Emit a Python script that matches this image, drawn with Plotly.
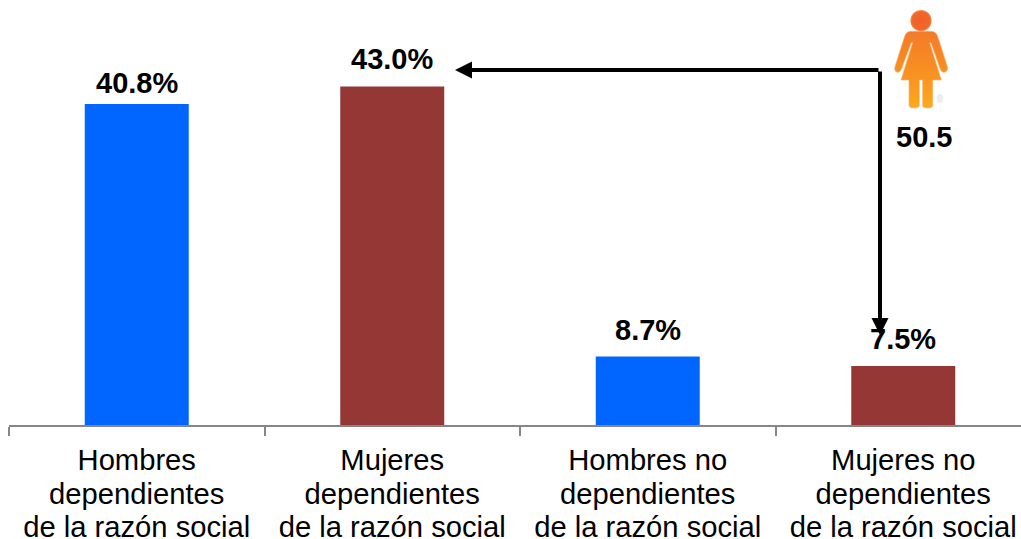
import base64
import plotly.graph_objects as go

categories = ["Hombres<br>dependientes<br>de la razón social", "Mujeres<br>dependientes<br>de la razón social",
              "Hombres no<br>dependientes<br>de la razón social", "Mujeres no<br>dependientes<br>de la razón social"]
values = [40.8, 43.0, 8.7, 7.5]
labels = ["40.8%", "43.0%", "8.7%", "7.5%"]
label_lift = [21, 27.5, 27, 27]
colors = ["#0066FF", "#953735", "#0066FF", "#953735"]
gap_label = "50.5"

FONT = "Liberation Sans, Arial, sans-serif"
W, H = 1021, 539
L, T, R, B = 9, 0, 0, 114
PW, PH = W - L - R, H - T - B
unit_px = 255.5
y_max = PH / 7.87
LABEL_SIZE = 29.2
LINE_BASE = 25.8


def tick_text(s):
    return "<br>".join(f'<span style="font-size:{LABEL_SIZE}px">{p}</span>' for p in s.split("<br>"))


svg = """<svg xmlns='http://www.w3.org/2000/svg' width='360' height='360' viewBox='0 0 360 360'>
<defs>
<linearGradient id='g' x1='0' y1='0' x2='0' y2='1'>
<stop offset='0' stop-color='#F47A2C'/><stop offset='0.5' stop-color='#F78F22'/><stop offset='1' stop-color='#FBAA1E'/>
</linearGradient>
<radialGradient id='h'><stop offset='0' stop-color='#F0602A'/><stop offset='0.85' stop-color='#F2672A'/><stop offset='1' stop-color='#F59A5A'/></radialGradient>
<filter id='b'><feGaussianBlur stdDeviation='1.6'/></filter>
</defs>
<ellipse cx='240' cy='295' rx='10' ry='14' fill='#E4E4E4' opacity='0.6' filter='url(#b)'/>
<circle cx='183' cy='62' r='32' fill='url(#h)' filter='url(#b)'/>
<path d='M150 94 L216 94 Q230 96 234 112 L263 203 Q264 213 253 217 Q245 218 241 208 L213 128 L209 128 L244 240 L218 240 L218 316 Q218 324 203 324 Q188 324 188 316 L188 240 L178 240 L178 316 Q178 324 162 324 Q147 324 147 316 L147 240 L123 240 L158 128 L154 128 L124 208 Q120 218 112 217 Q102 213 104 203 L133 112 Q137 96 150 94 Z' fill='url(#g)' stroke='#F9B36B' stroke-width='2' filter='url(#b)'/>
</svg>"""
icon = "data:image/svg+xml;base64," + base64.b64encode(svg.encode()).decode()

fig = go.Figure(go.Bar(
    x=categories, y=values, marker_color=colors, marker_line_width=0, width=0.407, cliponaxis=False,
))


def px_x(p):
    return (p - L) / unit_px - 0.5


def px_y(p):
    return (H - B - p) / 7.87


corner_x, corner_y = px_x(880), px_y(70)
arrow = dict(xref="x", yref="y", axref="x", ayref="y", ax=corner_x, ay=corner_y, text="", showarrow=True,
             arrowhead=2, arrowsize=0.85, arrowwidth=4, arrowcolor="#000000", standoff=0, startstandoff=0)

value_labels = [dict(xref="x", yref="y", x=i, y=v, text=t, showarrow=False, yanchor="middle", yshift=s,
                     font=dict(family=FONT, size=29, color="#000000", weight="bold"))
                for i, (v, t, s) in enumerate(zip(values, labels, label_lift))]

fig.update_layout(
    width=W, height=H, margin=dict(l=L, r=R, t=T, b=B, pad=0, autoexpand=False),
    paper_bgcolor="#FFFFFF", plot_bgcolor="#FFFFFF", showlegend=False, bargap=0.6,
    font=dict(family=FONT, color="#000000"),
    xaxis=dict(type="category", range=[-0.5, -0.5 + PW / unit_px], tickson="boundaries", ticks="outside",
               ticklen=9, tickwidth=2, tickcolor="#868686", showline=True, linecolor="#868686", linewidth=2,
               showgrid=False, zeroline=False, tickfont=dict(family=FONT, size=LINE_BASE, color="#000000"),
               ticklabeloverflow="allow", ticklabelstandoff=12,
               tickmode="array", tickvals=categories, ticktext=[tick_text(c) for c in categories]),
    yaxis=dict(range=[0, y_max], visible=False, showgrid=False, zeroline=False),
    annotations=value_labels + [
        dict(arrow, x=px_x(455), y=corner_y),
        dict(arrow, x=corner_x, y=px_y(335)),
        dict(xref="x", yref="y", x=px_x(924), y=px_y(137), text="<b>" + gap_label + "</b>", showarrow=False,
             font=dict(family=FONT, size=29, color="#000000")),
    ],
    images=[dict(source=icon, xref="paper", yref="paper", x=(860 - L) / PW, y=1, sizex=120 / PW, sizey=120 / PH,
                 xanchor="left", yanchor="top", sizing="stretch", layer="above")],
)
fig.write_html("out.html", post_script="document.body.style.margin='0';document.documentElement.style.overflow='hidden';",
               config=dict(displayModeBar=False))
